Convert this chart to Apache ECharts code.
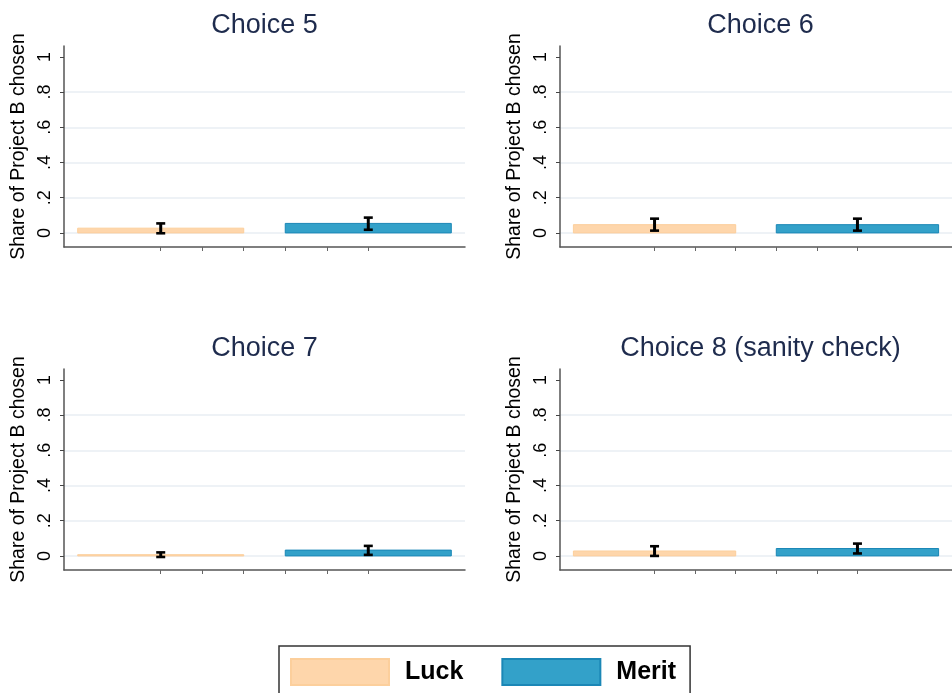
<!DOCTYPE html>
<html>
<head>
<meta charset="utf-8">
<script src="https://cdn.jsdelivr.net/npm/echarts@6/dist/echarts.min.js"></script>
<style>
html,body{margin:0;padding:0;background:#fff;}
#chart{width:952px;height:693px;}
</style>
</head>
<body>
<div id="chart"></div>
<script>
// ---- data ----
var categories = ['Luck', 'Merit'];
var panelTitles = ['Choice 5', 'Choice 6', 'Choice 7', 'Choice 8 (sanity check)'];
var luckMean  = [0.027, 0.047, 0.007, 0.028];
var luckLow   = [-0.002, 0.013, -0.006, 0.000];
var luckHigh  = [0.054, 0.081, 0.020, 0.055];
var meritMean = [0.054, 0.047, 0.033, 0.042];
var meritLow  = [0.018, 0.013, 0.006, 0.014];
var meritHigh = [0.087, 0.081, 0.057, 0.070];
var yTicks = [0, 0.2, 0.4, 0.6, 0.8, 1];
var yTickLabels = ['0', '.2', '.4', '.6', '.8', '1'];
var xTicks = [1, 2, 3, 4, 5, 6];

// ---- layout / style ----
var FONT = '"Liberation Sans", Arial, sans-serif';
var catX = [1, 6];       // category centres on the value x axis
var HALF = 2;            // half bar width in axis units
var colors = {
  Luck:  {fill: '#fed6ab', border: '#fccf9c'},
  Merit: {fill: '#33a1c9', border: '#1b87b6'}
};
var grids = [
  {left: 64,  top: 46,  width: 401, height: 201},
  {left: 560, top: 46,  width: 401, height: 201},
  {left: 64,  top: 369, width: 401, height: 201},
  {left: 560, top: 369, width: 401, height: 201}
];

var option = {
  animation: false,
  backgroundColor: '#ffffff',
  textStyle: {fontFamily: FONT},
  title: [],
  grid: [],
  xAxis: [],
  yAxis: [],
  series: [],
  legend: {
    left: 279, top: 646,
    data: categories,
    icon: 'rect',
    itemWidth: 98, itemHeight: 26, itemGap: 38,
    padding: [12, 14, 12, 11],
    borderColor: '#333', borderWidth: 1.5,
    selectedMode: false,
    textStyle: {fontFamily: FONT, fontSize: 25, fontWeight: 'bold', color: '#000', padding: [0, 0, 0, 11]}
  }
};

var means = {Luck: luckMean, Merit: meritMean};
var lows = {Luck: luckLow, Merit: meritLow};
var highs = {Luck: luckHigh, Merit: meritHigh};

grids.forEach(function (g, i) {
  option.grid.push({left: g.left, top: g.top, width: g.width, height: g.height, containLabel: false});
  option.title.push({
    text: panelTitles[i],
    left: g.left + g.width / 2 - 5,
    top: g.top - 39,
    textAlign: 'center',
    textStyle: {fontFamily: FONT, fontSize: 27, fontWeight: 'normal', color: '#1e2b4d'}
  });
  option.xAxis.push({
    type: 'value', gridIndex: i, min: -1.33, max: 8.33,
    axisLine: {show: true, onZero: false, lineStyle: {color: '#555', width: 1.5}},
    axisTick: {show: true, customValues: xTicks, length: 4, lineStyle: {color: '#666', width: 1}},
    axisLabel: {show: false},
    splitLine: {show: false}
  });
  option.yAxis.push({
    type: 'value', gridIndex: i, min: -0.08, max: 1.062,
    name: 'Share of Project B chosen',
    nameLocation: 'middle', nameGap: 35, nameRotate: 90,
    nameTextStyle: {fontFamily: FONT, fontSize: 19.5, color: '#000'},
    axisLine: {show: true, onZero: false, lineStyle: {color: '#555', width: 1.5}},
    axisTick: {show: true, customValues: yTicks, length: 4, lineStyle: {color: '#444', width: 1}},
    axisLabel: {
      show: true, customValues: yTicks, rotate: 90, margin: 10,
      fontFamily: FONT, fontSize: 18, color: '#000',
      formatter: function (v) {
        var k = yTicks.indexOf(v);
        return k >= 0 ? yTickLabels[k] : '';
      }
    },
    splitLine: {show: true, lineStyle: {color: ['#e8eef3', '#e8eef3', '#e8eef3', '#e8eef3', '#e8eef3', 'rgba(0,0,0,0)'], width: 1.5}}
  });

  categories.forEach(function (cat, c) {
    option.series.push({
      type: 'custom', name: cat, xAxisIndex: i, yAxisIndex: i,
      itemStyle: {color: colors[cat].fill, borderColor: colors[cat].border, borderWidth: 1},
      data: [[catX[c], means[cat][i]]],
      renderItem: function (params, api) {
        var cx = api.value(0), v = api.value(1);
        var p0 = api.coord([cx - HALF, v]);
        var p1 = api.coord([cx + HALF, 0]);
        return {
          type: 'rect',
          shape: {x: p0[0], y: p0[1], width: p1[0] - p0[0], height: p1[1] - p0[1]},
          style: {fill: colors[cat].fill, stroke: colors[cat].border, lineWidth: 1}
        };
      },
      z: 2
    });
    option.series.push({
      type: 'custom', name: cat + ' CI', xAxisIndex: i, yAxisIndex: i,
      data: [[catX[c], lows[cat][i], highs[cat][i]]],
      renderItem: function (params, api) {
        var cx = api.value(0);
        var lo = api.coord([cx, api.value(1)]);
        var hi = api.coord([cx, api.value(2)]);
        var w = 4.5;
        var st = {stroke: '#000', lineWidth: 2.6};
        return {
          type: 'group',
          children: [
            {type: 'line', shape: {x1: lo[0], y1: lo[1], x2: hi[0], y2: hi[1]}, style: {stroke: '#000', lineWidth: 3}},
            {type: 'line', shape: {x1: hi[0] - w, y1: hi[1], x2: hi[0] + w, y2: hi[1]}, style: st},
            {type: 'line', shape: {x1: lo[0] - w, y1: lo[1], x2: lo[0] + w, y2: lo[1]}, style: st}
          ]
        };
      },
      z: 3
    });
  });
});

var chart = echarts.init(document.getElementById('chart'), null, {renderer: 'canvas'});
chart.setOption(option);
</script>
</body>
</html>
